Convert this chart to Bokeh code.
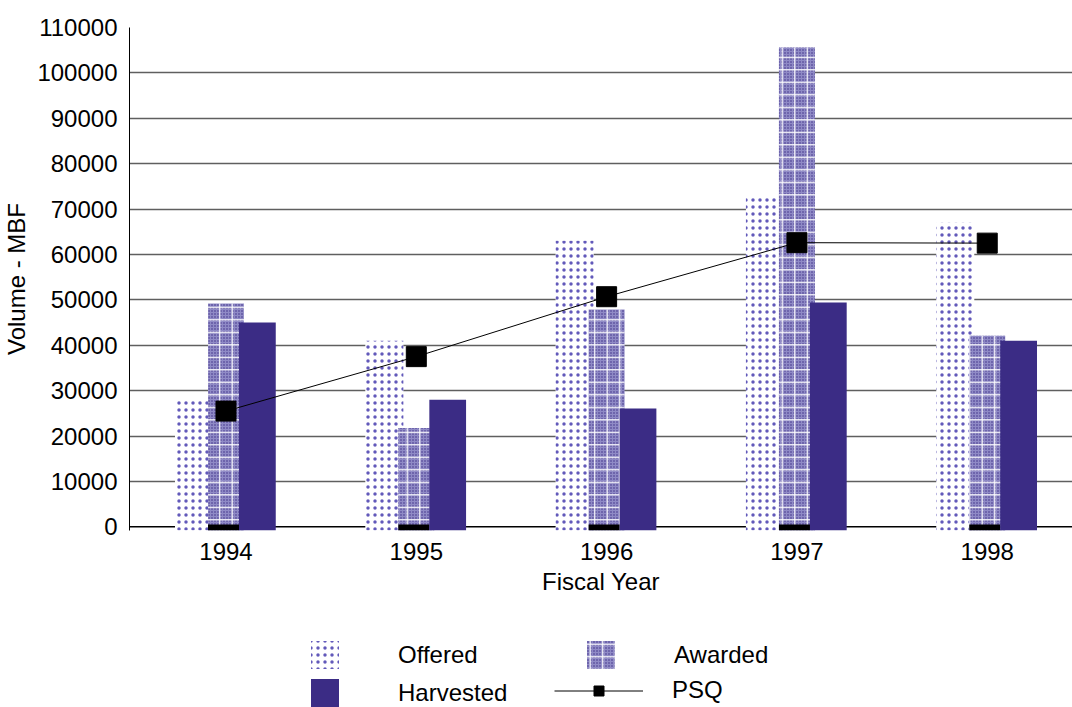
from bokeh.plotting import figure
from bokeh.layouts import column
from bokeh.models import (ColumnDataSource, Range1d, FixedTicker, BasicTickFormatter,
                          Legend, LegendItem, Span)
from bokeh.transform import dodge
from bokeh.embed import file_html
from bokeh.resources import INLINE

# Timber sale volumes by fiscal year (MBF)
years = ["1994", "1995", "1996", "1997", "1998"]
offered = [27800, 41000, 63000, 72900, 67000]
awarded = [49200, 21800, 47900, 105600, 42100]
harvested = [45000, 28000, 26100, 49400, 41000]
psq = [25500, 37500, 50700, 62600, 62500]
base_tick = [500, 500, 500, 500, 500]

y_ticks = list(range(0, 110001, 10000))

FONT = "Liberation Sans"
PURPLE = "#3b2c85"
BASE = -800  # bars start just below the zero line

# Shared glyph styles (used by the chart and by the legend swatches)
OFFERED_STYLE = dict(fill_color="white", line_color=None, hatch_pattern="dot",
                     hatch_scale=7, hatch_weight=1, hatch_color="#6259ba")
AWARDED_STYLE = dict(fill_color="#8f8ac6", line_color=None, hatch_pattern="dot",
                     hatch_scale=3, hatch_weight=0.6, hatch_color=PURPLE)
AWARDED_GRID_STYLE = dict(fill_color=None, line_color=None, hatch_pattern="cross",
                          hatch_scale=12.5, hatch_weight=1.2, hatch_color="white")
HARVESTED_STYLE = dict(fill_color=PURPLE, line_color=None)
PSQ_LINE_STYLE = dict(line_color="black", line_width=1)
PSQ_MARK_STYLE = dict(marker="square", fill_color="black", line_color="black")

src = ColumnDataSource(dict(
    x=list(range(len(years))),
    offered=offered, awarded=awarded, harvested=harvested,
    psq=psq, base_tick=base_tick,
))

p = figure(width=1072, height=630, output_backend="svg", toolbar_location=None,
           x_range=Range1d(-0.507, 4.448), y_range=Range1d(BASE, 110000),
           min_border_left=129, min_border_right=0, min_border_top=27,
           min_border_bottom=100)
p.outline_line_color = None
p.background_fill_color = "white"
p.border_fill_color = "white"

# Bars
p.vbar(x=dodge("x", -0.168, range=p.x_range), top="offered", bottom=BASE,
       width=0.2, source=src, **OFFERED_STYLE)
p.vbar(x="x", top="awarded", bottom=BASE, width=0.189, source=src, **AWARDED_STYLE)
p.vbar(x="x", top="awarded", bottom=BASE, width=0.189, source=src,
       **AWARDED_GRID_STYLE)
p.vbar(x=dodge("x", -0.013, range=p.x_range), top="base_tick", bottom=BASE,
       width=0.163, source=src, fill_color="black", line_color=None)
p.vbar(x=dodge("x", 0.165, range=p.x_range), top="harvested", bottom=BASE,
       width=0.193, source=src, **HARVESTED_STYLE)

# PSQ line with square markers
p.line(x="x", y="psq", source=src, **PSQ_LINE_STYLE)
p.scatter(x="x", y="psq", source=src, size=20, **PSQ_MARK_STYLE)

# Zero line
p.add_layout(Span(location=0, dimension="width", line_color="black",
                  line_width=1.5, level="underlay"))

# Axes
p.xgrid.grid_line_color = None
p.ygrid.grid_line_color = "#5f5f5f"
p.ygrid.grid_line_width = 1.5
p.ygrid.ticker = FixedTicker(ticks=y_ticks[1:])

p.xaxis.ticker = FixedTicker(ticks=list(range(len(years))))
p.xaxis.major_label_overrides = {i: y for i, y in enumerate(years)}
p.xaxis.axis_line_color = None
p.xaxis.major_tick_line_color = None
p.xaxis.minor_tick_line_color = None
p.xaxis.major_tick_out = 0
p.xaxis.major_label_standoff = 12
p.xaxis.axis_label = "Fiscal Year"
p.xaxis.axis_label_standoff = 5

p.yaxis.ticker = FixedTicker(ticks=y_ticks)
p.yaxis.formatter = BasicTickFormatter(use_scientific=False)
p.yaxis.axis_line_color = "black"
p.yaxis.axis_line_width = 1
p.yaxis.major_tick_line_color = None
p.yaxis.minor_tick_line_color = None
p.yaxis.major_tick_out = 0
p.yaxis.major_label_standoff = 12
p.yaxis.axis_label = "Volume - MBF"
p.yaxis.axis_label_standoff = 4

for ax in (p.xaxis, p.yaxis):
    ax.major_label_text_font = FONT
    ax.major_label_text_font_size = "24px"
    ax.major_label_text_color = "black"
    ax.axis_label_text_font = FONT
    ax.axis_label_text_font_size = "24px"
    ax.axis_label_text_font_style = "normal"
    ax.axis_label_text_color = "black"

# Legend strip under the chart (swatch renderers are hidden, legend only)
key = figure(width=1072, height=77, output_backend="svg", toolbar_location=None,
             x_range=Range1d(0, 1), y_range=Range1d(0, 1), min_border=0)
key.axis.visible = False
key.grid.visible = False
key.outline_line_color = None
k_off = key.vbar(x="x", top="offered", width=0.1, source=src, visible=False,
                 **OFFERED_STYLE)
k_aw = key.vbar(x="x", top="awarded", width=0.1, source=src, visible=False,
                **AWARDED_STYLE)
k_aw2 = key.vbar(x="x", top="awarded", width=0.1, source=src, visible=False,
                 **AWARDED_GRID_STYLE)
k_h = key.vbar(x="x", top="harvested", width=0.1, source=src, visible=False,
               **HARVESTED_STYLE)
k_line = key.line(x="x", y="psq", source=src, visible=False, **PSQ_LINE_STYLE)
k_mark = key.scatter(x="x", y="psq", source=src, size=10, visible=False,
                     **PSQ_MARK_STYLE)

LEGEND_TEXT = dict(border_line_color=None, background_fill_alpha=0, padding=0,
                   margin=0, label_text_font=FONT, label_text_font_size="24px",
                   label_text_color="black")

bar_legend = Legend(items=[
    LegendItem(label="Offered", renderers=[k_off]),
    LegendItem(label="Awarded", renderers=[k_aw, k_aw2]),
    LegendItem(label="Harvested", renderers=[k_h]),
], orientation="horizontal", ncols=2, location=(178, -3),
    glyph_width=35, glyph_height=35, label_standoff=56, label_width=182,
    spacing=3, **LEGEND_TEXT)
key.add_layout(bar_legend, "center")

# PSQ key uses a wider, flatter swatch for the line sample
line_legend = Legend(items=[
    LegendItem(label="PSQ", renderers=[k_line, k_mark]),
], location=(425, 3), glyph_width=89, glyph_height=25, label_standoff=29,
    **LEGEND_TEXT)
key.add_layout(line_legend, "center")

layout = column(p, key, spacing=0)
open("out.html", "w").write(file_html(layout, INLINE))
